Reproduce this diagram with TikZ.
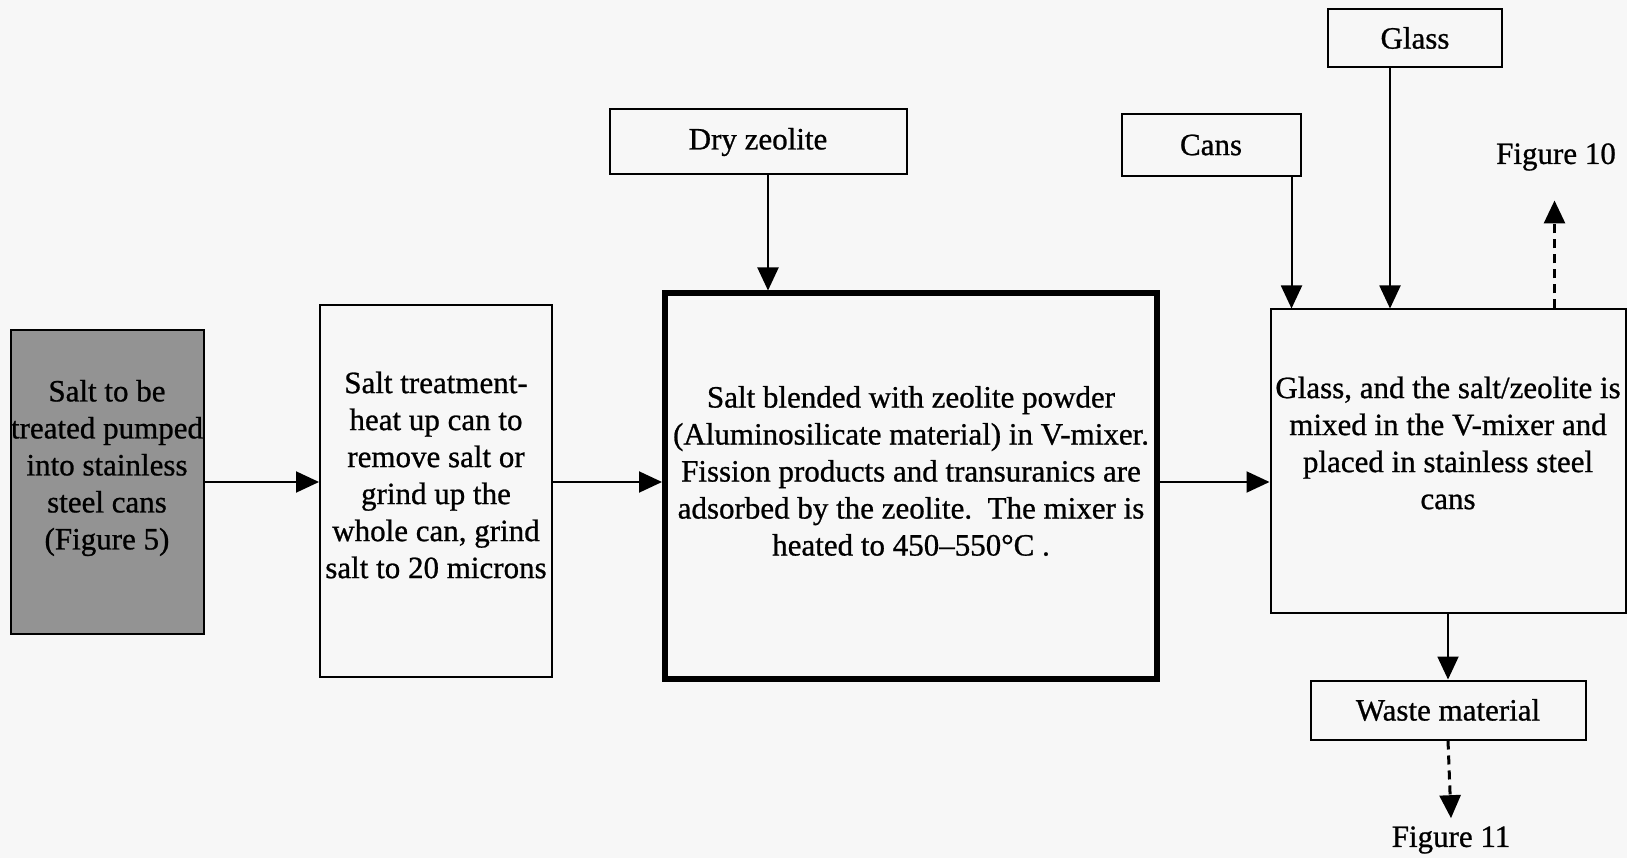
\documentclass[tikz,border=0pt]{standalone}
\usepackage{fontspec}
\setmainfont{Liberation Serif}[FakeBold=0.8]
\usetikzlibrary{arrows.meta}
\definecolor{paper}{RGB}{247,247,247}
\begin{document}
\begin{tikzpicture}
    [ x=1pt, y=-1pt
    , every node/.style={font=\fontsize{31}{37}\selectfont, align=center, inner sep=0pt}
    , procbox/.style={draw, line width=2pt}
    , tagbox/.style={draw, line width=2pt}
    , flow/.style={line width=2pt, -{Triangle[length=23pt,width=21pt]}}
    , flowdash/.style={flow, line width=3pt, dash pattern=on 9pt off 6pt}
    ]
\fill[paper] (0,0) rectangle (1627,858);
\useasboundingbox (0,0) rectangle (1627,858);

% process boxes
\node[procbox, fill=gray!85, minimum width=193pt, minimum height=303pt] (salt) at (107,482) {};
\node[procbox, minimum width=232pt, minimum height=372pt] (treat) at (436,491) {};
\node[procbox, line width=6pt, minimum width=492pt, minimum height=385pt] (blend) at (911,486) {};
\node[procbox, minimum width=355pt, minimum height=303pt] (mix) at (1448,461) {};

% their texts sit a little above the middle
\node (salt-txt) at ([yshift=14pt]salt) {Salt to be\\treated pumped\\into stainless\\steel cans\\(Figure 5)};
\node (treat-txt) at ([yshift=16pt]treat) {Salt treatment-\\heat up can to\\remove salt or\\grind up the\\whole can, grind\\salt to 20 microns};
\node (blend-txt) at ([yshift=15pt]blend) {Salt blended with zeolite powder\\(Aluminosilicate material) in V-mixer.\\Fission products and transuranics are\\adsorbed by the zeolite.\ \ The mixer is\\heated to 450--550°C .};
\node (mix-txt) at ([yshift=18pt]mix) {Glass, and the salt/zeolite is\\mixed in the V-mixer and\\placed in stainless steel\\cans};

% feed boxes
\node[tagbox, minimum width=297pt, minimum height=65pt] (dry) at (758,142) {Dry zeolite};
\node[tagbox, minimum width=179pt, minimum height=62pt] (cans) at (1211,145) {Cans};
\node[tagbox, minimum width=174pt, minimum height=58pt] (glass) at (1415,38) {Glass};
\node[tagbox, minimum width=275pt, minimum height=59pt] (waste) at (1448,710) {Waste material};

% outgoing references
\node (fig10) at (1556,157) {Figure 10};
\node (fig11) at (1451,840) {Figure 11};

% main flow
\draw[flow] (salt.east) -- (salt.east -| treat.west);
\draw[flow] (treat.east |- salt.east) -- (blend.west |- salt.east);
\draw[flow] (blend.east |- salt.east) -- (mix.west |- salt.east);
\draw[flow] ([xshift=10pt]dry.south) -- ([xshift=10pt]dry.south |- blend.north);
\draw[flow] ([xshift=-10pt]cans.south east) -- ([xshift=-10pt]cans.south east |- mix.north);
\draw[flow] ([xshift=-25pt]glass.south) -- ([xshift=-25pt]glass.south |- mix.north);
\draw[flow] (mix.south) -- (waste.north);

% to other figures
\draw[flowdash] ([xshift=-72pt]mix.north east) -- ([xshift=-72pt,yshift=108pt]mix.north east);
\draw[flowdash] (waste.south) -- ([yshift=8pt]fig11.north);
\end{tikzpicture}
\end{document}
